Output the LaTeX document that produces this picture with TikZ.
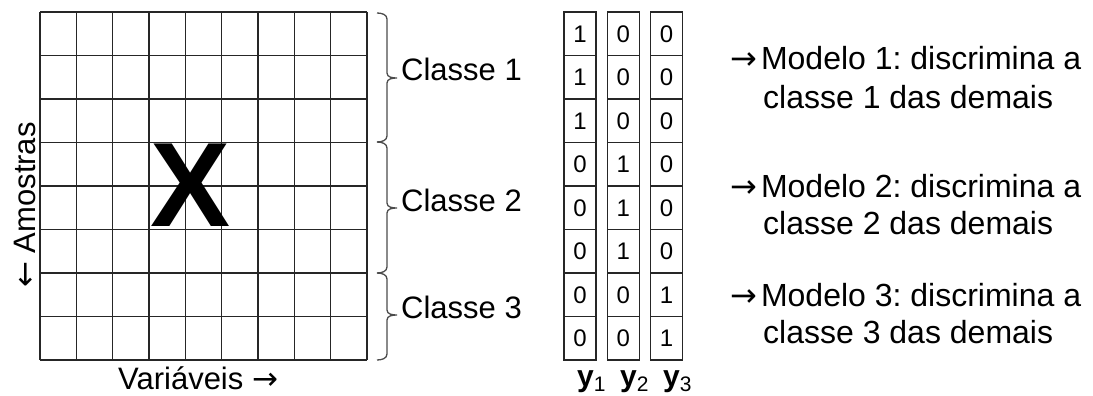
\documentclass[tikz,border=0pt]{standalone}
\usepackage{fontspec}
\setmainfont{Liberation Sans}
\newfontfamily\arrfont{DejaVu Sans}
\newcommand\toright{{\arrfont →}}
\newcommand\toleft{{\arrfont ←}}
\frenchspacing

\tikzset{
  gridline/.style={line width=1.4pt, draw=black!85},
  cell/.style={draw=black!85, line width=1.4pt, minimum width=32pt, minimum height=43.5pt,
    inner sep=0pt, font=\fontsize{24}{24}\selectfont},
  txt/.style={inner sep=0pt, font=\fontsize{31}{37}\selectfont},
  modtxt/.style={inner sep=0pt, font=\fontsize{32}{38}\selectfont, anchor=base west},
  brc/.style={line width=1.3pt, draw=black!70},
}

\begin{document}
\begin{tikzpicture}[x=1pt, y=-1pt]
  \useasboundingbox (0,0) rectangle (1093,396);

  % data matrix X: 8 samples x 9 variables
  \foreach \i in {0,...,9}
    \draw[gridline] ({40+36.33*\i},12) -- ({40+36.33*\i},360);
  \foreach \j in {0,...,8}
    \draw[gridline] (40,{12+43.5*\j}) -- (367,{12+43.5*\j});
  \node (matX) [inner sep=0pt, font=\fontsize{120}{120}\selectfont\bfseries] at (191,185) {X};

  % axis labels
  \node (amostras) [txt, rotate=90, anchor=base west] at (35,288) {\toleft{} Amostras};
  \node (variaveis) [txt, anchor=base west] at (118,389) {Variáveis \toright};

  % class braces
  \foreach \t/\m/\b [count=\k] in {13/78/142, 142/208/273, 273/315/360} {
    \coordinate (tip\k) at (397,\m);
    \draw[brc] (377,\t) to[out=0,in=90] (387,\t+6) -- (387,\m-5)
      to[out=-90,in=180] (tip\k) to[out=180,in=90] (387,\m+5)
      -- (387,\b-6) to[out=-90,in=0] (377,\b);
    \node (classe\k) [txt, anchor=base west] at (401,\m+3) {Classe \k};
  }

  % one-vs-rest target columns
  \foreach \r/\a/\b/\c in {0/1/0/0, 1/1/0/0, 2/1/0/0, 3/0/1/0,
                           4/0/1/0, 5/0/1/0, 6/0/0/1, 7/0/0/1} {
    \foreach \v [count=\k] in {\a,\b,\c}
      \node (y\k-\r) [cell] at ({580+43.25*(\k-1)},{33.75+43.5*\r}) {\v};
  }
  \foreach \k in {1,2,3}
    \node (ylab\k) [anchor=base west, inner sep=0pt] at ({577+43*(\k-1)},386)
      {\fontsize{30}{30}\selectfont\bfseries y\fontsize{21}{21}\selectfont\mdseries\raisebox{-5pt}{\k}};

  % models
  \foreach \k/\ya/\yb in {1/70/108, 2/197/234, 3/306/343} {
    \node (modelo\k) [modtxt] at (730,\ya) {\toright\kern4pt Modelo \k: discrimina a};
    \node (demais\k) [modtxt] at (763,\yb) {classe \k{} das demais};
  }
\end{tikzpicture}
\end{document}
